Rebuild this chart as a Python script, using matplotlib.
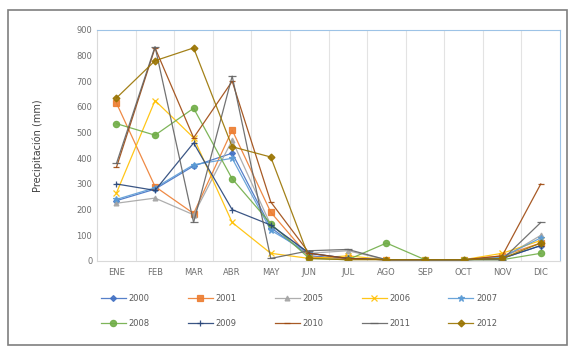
import matplotlib.pyplot as plt
import numpy as np
from matplotlib.patches import Rectangle

months = ['ENE', 'FEB', 'MAR', 'ABR', 'MAY', 'JUN', 'JUL', 'AGO', 'SEP', 'OCT', 'NOV', 'DIC']

# precipitation per year (mm)
p2000 = [235, 280, 370, 420, 130, 20, 10, 5, 5, 5, 10, 60]
p2001 = [615, 290, 185, 510, 190, 15, 10, 5, 5, 5, 20, 70]
p2005 = [225, 245, 180, 470, 140, 30, 40, 5, 5, 5, 10, 100]
p2006 = [265, 625, 480, 150, 30, 10, 20, 5, 5, 5, 30, 80]
p2007 = [240, 285, 375, 400, 120, 30, 10, 5, 5, 5, 15, 90]
p2008 = [535, 490, 595, 320, 145, 10, 5, 70, 5, 5, 5, 30]
p2009 = [300, 275, 460, 200, 140, 30, 10, 5, 5, 5, 10, 60]
p2010 = [365, 830, 480, 700, 230, 30, 10, 5, 5, 5, 20, 300]
p2011 = [380, 835, 150, 720, 10, 40, 45, 5, 5, 5, 5, 150]
p2012 = [635, 780, 830, 445, 405, 10, 5, 5, 5, 5, 10, 70]

years = ['2000', '2001', '2005', '2006', '2007', '2008', '2009', '2010', '2011', '2012']
series = [p2000, p2001, p2005, p2006, p2007, p2008, p2009, p2010, p2011, p2012]
colors = ['#4472C4', '#ED7D31', '#A5A5A5', '#FFC000', '#5B9BD5',
          '#70AD47', '#264478', '#9E480E', '#636363', '#997300']
markers = ['D', 's', '^', 'x', '*', 'o', '+', '_', '_', 'D']
msizes = [3, 4.5, 3.5, 4.5, 4.5, 4.5, 4.5, 4.5, 5.5, 3.5]

fig = plt.figure(figsize=(5.75, 3.48), dpi=100)
fig.patches.append(Rectangle((8 / 575, 3 / 348), 559 / 575, 335 / 348, transform=fig.transFigure,
                             fill=False, edgecolor='#7f7f7f', linewidth=1.2))
ax = fig.add_axes([0.169, 0.25, 0.805, 0.664])

x = np.arange(len(months))
lines = []
for yr, vals, c, m, ms in zip(years, series, colors, markers, msizes):
    ln, = ax.plot(x, vals, color=c, marker=m, markersize=ms, linewidth=0.9, label=yr,
                  markeredgewidth=0.9, alpha=0.9)
    lines.append(ln)

ax.set_xlim(-0.5, 11.5)
ax.set_ylim(0, 900)
ax.set_yticks(range(0, 901, 100))
ax.set_xticks(x)
ax.set_xticklabels(months)
for b in np.arange(0.5, 11.5, 1):
    ax.axvline(b, color='#e3e3e3', linewidth=0.8, zorder=0)
ax.tick_params(axis='both', length=0, labelsize=6, colors='#6f6f6f')
ax.tick_params(axis='x', pad=5)
for s in ['left', 'bottom']:
    ax.spines[s].set_color('#d9d9d9')
for s in ['top', 'right']:
    ax.spines[s].set_color('#9dc3e6')
ax.set_ylabel('Precipitación (mm)', fontsize=7, color='#404040', labelpad=24)

# legend filled row by row like the original (matplotlib fills by column)
order = [0, 5, 1, 6, 2, 7, 3, 8, 4, 9]
fig.legend([lines[i] for i in order], [years[i] for i in order],
           loc='lower center', bbox_to_anchor=(0.52, 0.035), ncol=5, frameon=False,
           fontsize=6, labelcolor='#595959', handlelength=3, columnspacing=4.6,
           handletextpad=0.3, labelspacing=2.0)

fig.savefig('out.png', dpi=100)
